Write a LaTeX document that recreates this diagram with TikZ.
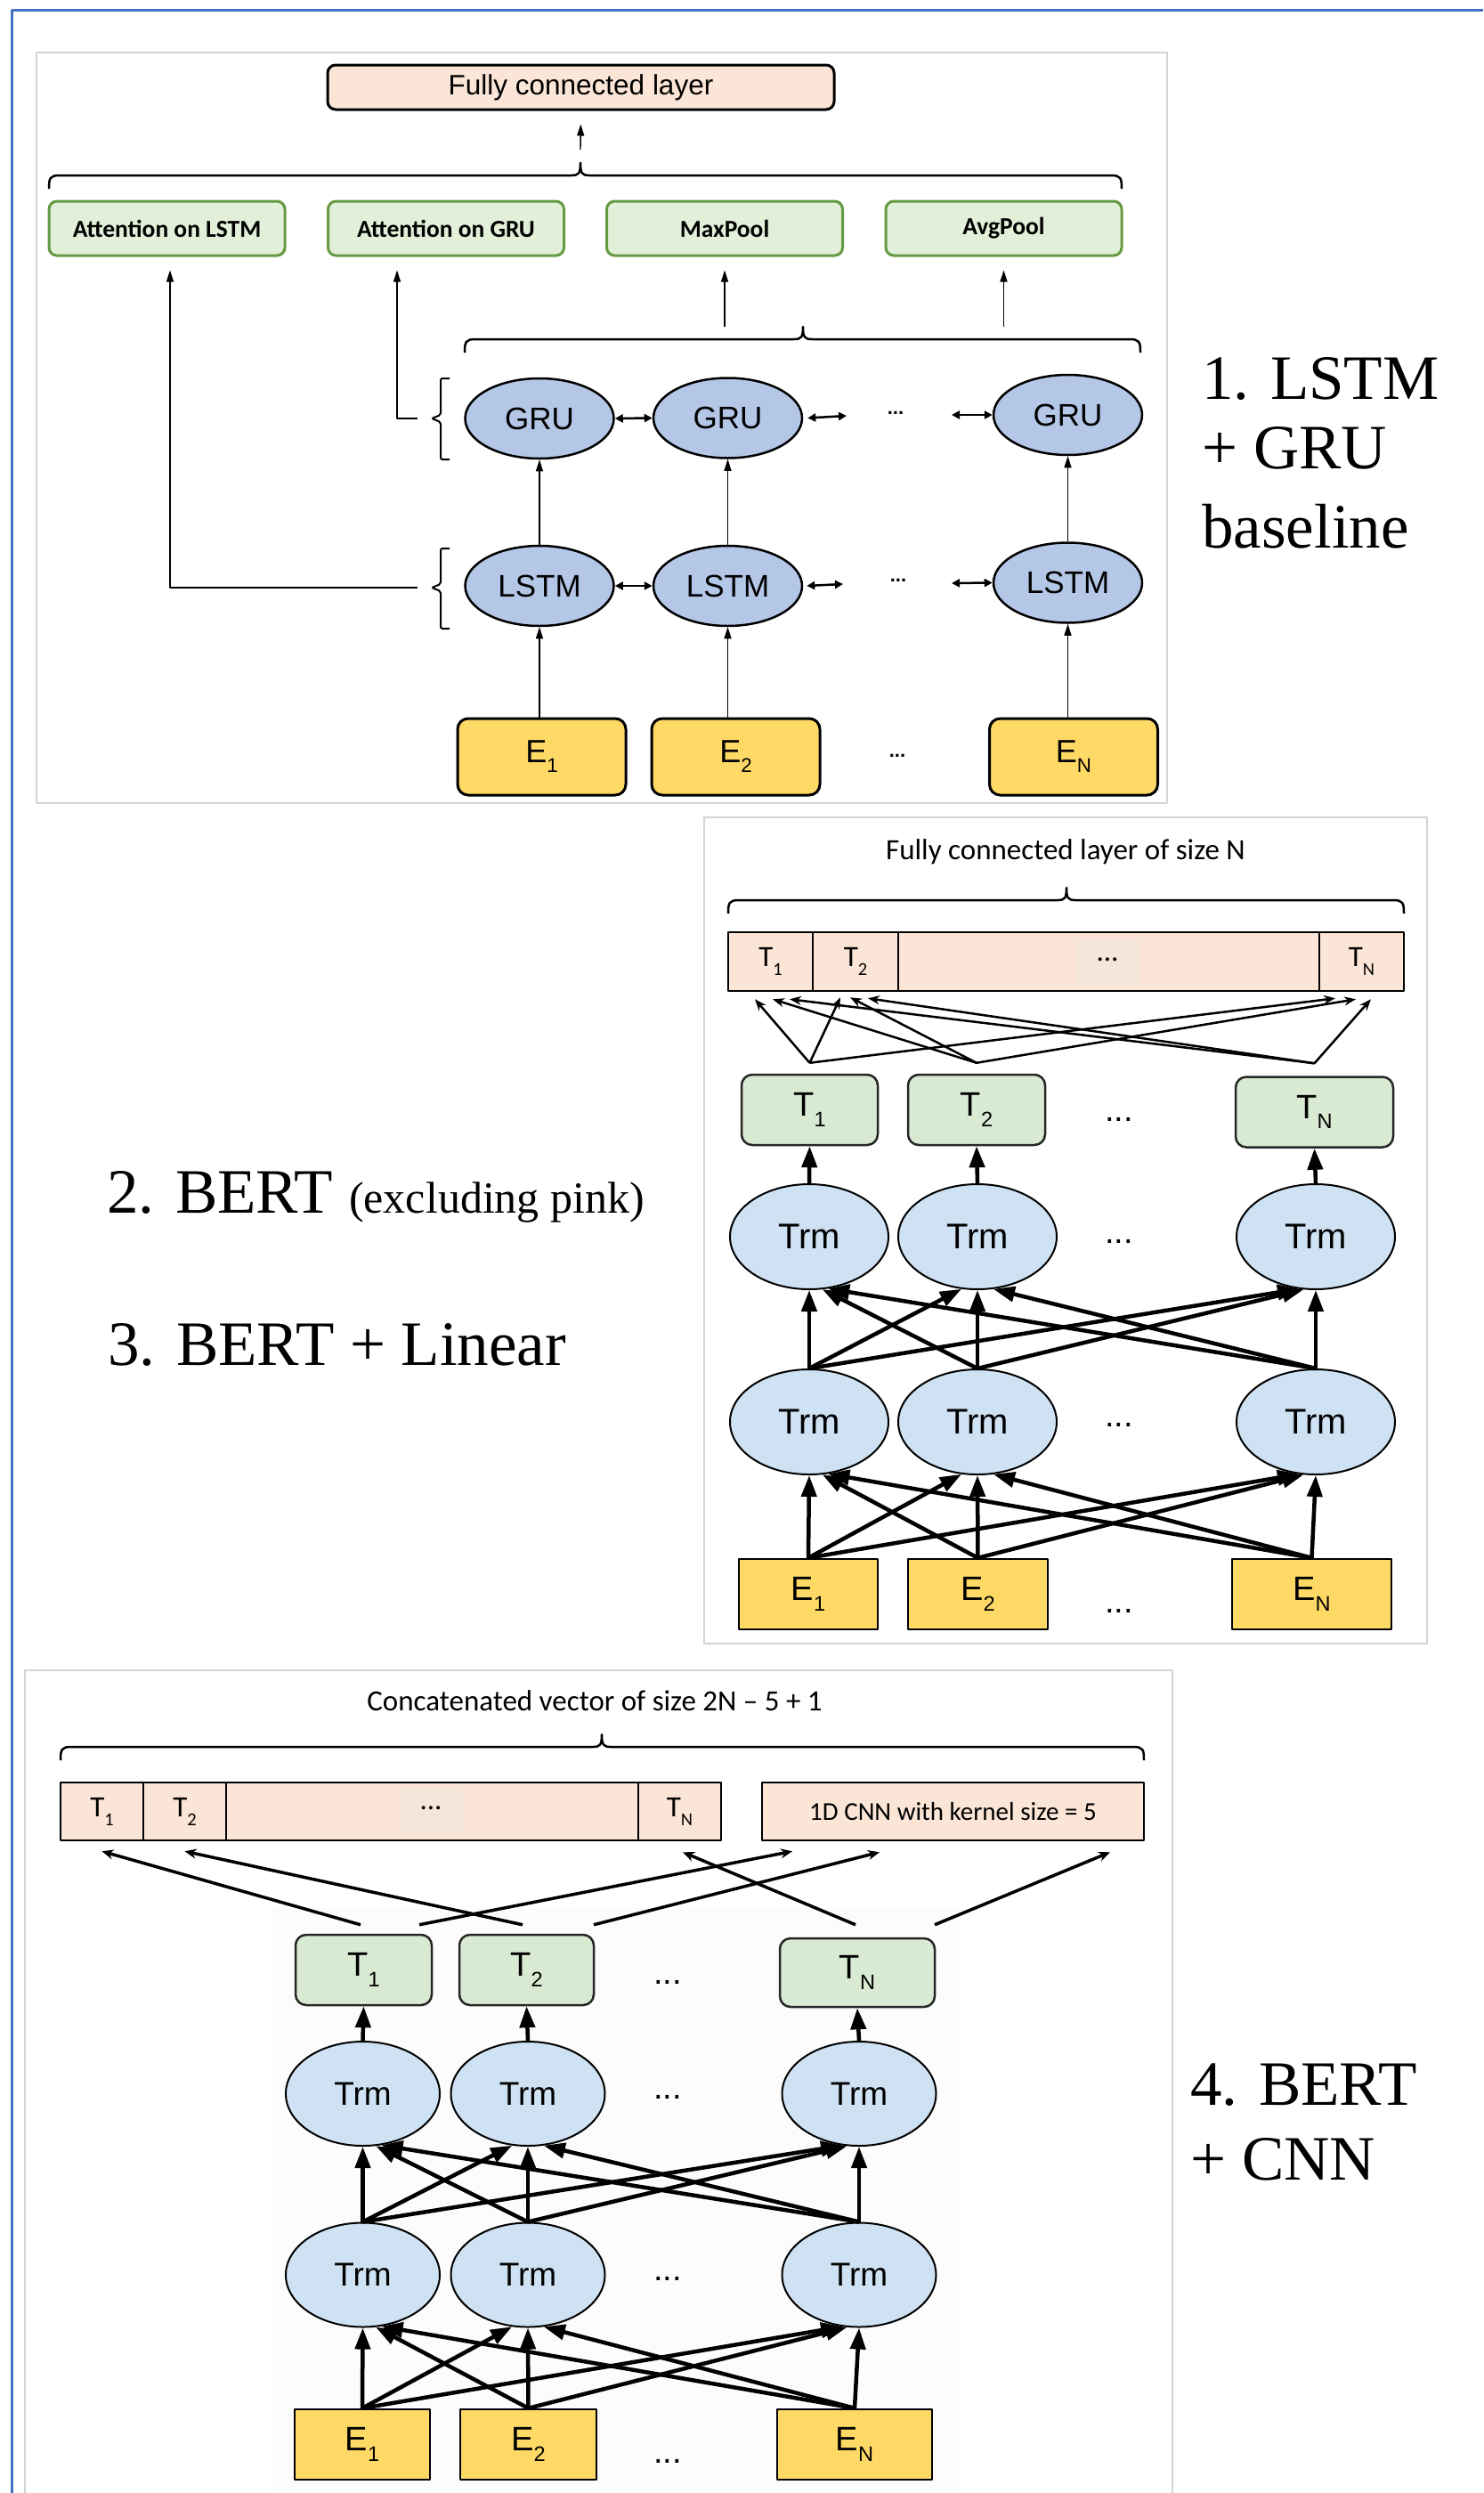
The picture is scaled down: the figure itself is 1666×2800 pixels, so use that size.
\documentclass[tikz,border=0pt]{standalone}
\usepackage{fontspec}
\usepackage{graphicx}
\setmainfont{Liberation Sans}
\newfontfamily\serifL{Liberation Serif}
\newfontfamily\calib{Carlito}
\usetikzlibrary{shapes.geometric,arrows.meta}

\definecolor{peach}{HTML}{FBE5D6}
\definecolor{dotbg}{HTML}{F4E6DA}
\definecolor{attfill}{HTML}{E2F0D9}
\definecolor{attdraw}{HTML}{669A42}
\definecolor{rnnfill}{HTML}{B4C7E7}
\definecolor{trmfill}{HTML}{CFE2F3}
\definecolor{tfill}{HTML}{D9EAD3}
\definecolor{efill}{HTML}{FFD966}
\definecolor{frameblue}{HTML}{4472C4}
\definecolor{panelgray}{HTML}{D4D4D4}
\definecolor{faintbg}{HTML}{FCFCFC}

\newcommand\lsub[1]{\raisebox{-0.3em}{\scalebox{0.62}{#1}}}
% x1, x2, xmid, y
\newcommand\mybrace[4]{%
  \draw[bracestyle] (#1,#4+15) .. controls (#1,#4+3) and (#1+1,#4) .. (#1+12,#4)
    -- (#3-10,#4) .. controls (#3-2,#4) and (#3,#4-2) .. (#3,#4-14)
    .. controls (#3,#4-2) and (#3+2,#4) .. (#3+10,#4)
    -- (#2-12,#4) .. controls (#2-1,#4) and (#2,#4+3) .. (#2,#4+15);}

\tikzset{
  panel/.style={draw=panelgray, line width=2pt},
  fcbox/.style={draw=black, line width=3pt, fill=peach, rounded corners=9pt, minimum width=569pt, minimum height=50pt, inner sep=0pt, font=\fontsize{31.5}{36}\selectfont},
  attbox/.style={draw=attdraw, line width=3pt, fill=attfill, rounded corners=9pt, minimum width=265pt, minimum height=61pt, inner sep=0pt, font=\calib\bfseries\fontsize{27.5}{32}\selectfont},
  rnn/.style={ellipse, draw=black, line width=2.5pt, fill=rnnfill, minimum width=167pt, minimum height=90pt, inner sep=0pt, font=\fontsize{35}{40}\selectfont},
  ebox/.style={draw=black, line width=3pt, fill=efill, rounded corners=12pt, minimum width=189pt, minimum height=86pt, inner sep=0pt, font=\fontsize{36}{40}\selectfont},
  thinarr/.style={line width=1.4pt, -{Triangle[length=13pt,width=8pt]}},
  dblarr/.style={line width=2.5pt, {Triangle[length=9pt,width=9pt]}-{Triangle[length=9pt,width=9pt]}},
  bracestyle/.style={line width=2.5pt},
  dotstxt/.style={inner sep=0pt, font=\bfseries\fontsize{22}{28}\selectfont},
  bigdots/.style={inner sep=0pt, font=\fontsize{38}{44}\selectfont},
  captxt/.style={inner sep=0pt, font=\calib\fontsize{33}{38}\selectfont},
  barcell/.style={draw=black, line width=2.5pt, fill=peach, minimum height=66pt, inner sep=0pt, font=\calib\fontsize{33}{38}\selectfont},
  tbox/.style={draw=black!85, line width=2.5pt, fill=tfill, rounded corners=12pt, minimum height=79pt, inner sep=0pt, font=\fontsize{38}{44}\selectfont},
  trm/.style={ellipse, draw=black, line width=2pt, fill=trmfill, minimum width=178pt, minimum height=118pt, inner sep=0pt, font=\fontsize{40}{46}\selectfont},
  trmb/.style={trm, minimum width=173pt, minimum height=117pt, font=\fontsize{37}{44}\selectfont},
  sbox/.style={draw=black, line width=2.5pt, fill=efill, minimum height=79pt, inner sep=0pt, font=\fontsize{38}{44}\selectfont},
  xarr/.style={line width=4.5pt, -{Triangle[length=24pt,width=17pt]}},
  toparr/.style={line width=2.5pt, -{Stealth[length=13pt,width=10pt]}},
  toparrb/.style={line width=3.5pt, -{Stealth[length=13pt,width=11pt]}},
  bigtext/.style={anchor=base west, inner sep=0pt, font=\serifL\fontsize{71}{84}\selectfont},
}

\begin{document}
\begin{tikzpicture}[x=1pt,y=-1pt,line join=round]
\useasboundingbox (0,0) rectangle (1666,2800);
\fill[white] (0,0) rectangle (1666,2800);
\draw[frameblue, line width=3pt] (13,2800) -- (13,11) -- (1666,11);

% ================= Panel 1 =================
\draw[panel] (41,59) rectangle (1311,902);
\node[fcbox] (fc) at (652.5,98) {Fully connected layer};
\mybrace{55}{1260}{652}{197}
\coordinate (b1top) at (652,168);
\draw[thinarr, shorten >=15pt] (b1top) -- (fc.south);

\node[attbox] (att1) at (187.5,256.5) {Attention on LSTM};
\node[attbox] (att2) at (501,256.5) {Attention on GRU};
\node[attbox] (maxp) at (814,256.5) {MaxPool};
\node[attbox] (avgp) at (1127.5,256.5) {AvgPool};

\mybrace{522}{1281}{902}{381}
\coordinate (mp0) at (814,367);
\coordinate (ap0) at (1127.5,367);
\draw[thinarr, shorten >=15pt] (mp0) -- (maxp.south);
\draw[thinarr, shorten >=15pt] (ap0) -- (avgp.south);

\node[rnn] (g1) at (606,470) {GRU};
\node[rnn] (g2) at (817.5,469.5) {GRU};
\node[rnn] (g3) at (1199.5,466) {GRU};
\node[rnn] (l1) at (606,658) {LSTM};
\node[rnn] (l2) at (817.5,658) {LSTM};
\node[rnn] (l3) at (1199.5,654.5) {LSTM};
\node[ebox] (e1) at (608.5,850) {E\lsub{1}};
\node[ebox] (e2) at (826.5,850) {E\lsub{2}};
\node[ebox] (en) at (1206,850) {E\lsub{N}};

\node[dotstxt] (gdots) at (1006,464) {...};
\node[dotstxt] (ldots) at (1009,652) {...};
\node[dotstxt] (edots) at (1008,849) {...};

\draw[dblarr] (g1.east) -- (g2.west);
\coordinate (gdr) at (951,467);
\coordinate (gdl) at (1069,466);
\draw[dblarr] ([xshift=5pt]g2.east) -- (gdr);
\draw[dblarr] (gdl) -- (g3.west);
\draw[dblarr] (l1.east) -- (l2.west);
\coordinate (ldr) at (947,656);
\coordinate (ldl) at (1069,655);
\draw[dblarr] ([xshift=4pt]l2.east) -- (ldr);
\draw[dblarr] (ldl) -- (l3.west);

\draw[thinarr] (l1.north) -- (g1.south);
\draw[thinarr] (l2.north) -- (g2.south);
\draw[thinarr] (l3.north) -- (g3.south);
\draw[thinarr] (e1.north -| l1) -- (l1.south);
\draw[thinarr] (e2.north -| l2) -- (l2.south);
\draw[thinarr] (en.north -| l3) -- (l3.south);

% brackets
\draw[line width=2pt, rounded corners=2pt] (505,425) -- (495,425) -- (495,466) -- (485,470) -- (495,474) -- (495,516) -- (505,516);
\draw[line width=2pt, rounded corners=2pt] (505,616) -- (495,616) -- (495,656) -- (485,660) -- (495,664) -- (495,706) -- (505,706);
\coordinate (gnub) at (469,470);
\coordinate (lnub) at (469,660);
\draw[thinarr, shorten >=15pt] (gnub) -| ([xshift=-55pt]att2.south);
\draw[thinarr, shorten >=15pt] (lnub) -| ([xshift=3.5pt]att1.south);

\node[bigtext] (lab1a) at (1350,448) {1. LSTM};
\node[bigtext] (lab1b) at (1350,526) {+ GRU};
\node[bigtext] (lab1c) at (1350,615) {baseline};

% ================= Panel 2 =================
\draw[panel] (791,918) rectangle (1603,1846);
\node[captxt] (cap2) at (1197,957) {Fully connected layer of size N};
\mybrace{818}{1577}{1198}{1011}
\node[barcell, minimum width=95pt] (p1) at (865.5,1080) {T\lsub{1}};
\node[barcell, minimum width=96pt] (p2) at (961,1080) {T\lsub{2}};
\node[barcell, minimum width=473pt] (pd) at (1245.5,1080) {};
\node[barcell, minimum width=95pt] (pn) at (1529.5,1080) {T\lsub{N}};
\fill[dotbg] (1208,1054) rectangle (1281,1105);
\node[inner sep=0pt, font=\calib\fontsize{33}{38}\selectfont] (pdots) at (1244,1078) {...};

\node[tbox, minimum width=153pt] (q1) at (909.5,1246.5) {T\lsub{1}};
\node[tbox, minimum width=154pt] (q2) at (1097,1246.5) {T\lsub{2}};
\node[tbox, minimum width=177pt] (qn) at (1476.5,1249) {T\lsub{N}};
\node[bigdots] (qdots) at (1257,1257) {...};

\node[trm] (u1) at (909,1389) {Trm};
\node[trm] (u2) at (1098,1389) {Trm};
\node[trm] (un) at (1478,1389) {Trm};
\node[bigdots] (udots) at (1257,1394) {...};
\node[trm] (d1) at (909,1597) {Trm};
\node[trm] (d2) at (1098,1597) {Trm};
\node[trm] (dn) at (1478,1597) {Trm};
\node[bigdots] (ddots) at (1257,1600) {...};
\node[sbox, minimum width=156pt] (be1) at (908,1790.5) {E\lsub{1}};
\node[sbox, minimum width=157pt] (be2) at (1098.5,1790.5) {E\lsub{2}};
\node[sbox, minimum width=179pt] (ben) at (1473.5,1790.5) {E\lsub{N}};
\node[bigdots] (bdots) at (1257,1809) {...};

\draw[toparr] ([yshift=12pt]q1.north) -- ([xshift=-17.5pt,yshift=-8pt]p1.south);
\draw[toparr] ([yshift=12pt]q1.north) -- ([xshift=-17pt,yshift=-6pt]p2.south);
\draw[toparr] ([yshift=12pt]q1.north) -- ([xshift=-29.5pt,yshift=-7pt]pn.south);
\draw[toparr] ([yshift=12pt]q2.north) -- ([xshift=2.5pt,yshift=-8pt]p1.south);
\draw[toparr] ([yshift=12pt]q2.north) -- ([xshift=-6pt,yshift=-6pt]p2.south);
\draw[toparr] ([yshift=12pt]q2.north) -- ([xshift=-6.5pt,yshift=-8pt]pn.south);
\draw[toparr] ([yshift=14pt]qn.north) -- ([xshift=21.5pt,yshift=-8pt]p1.south);
\draw[toparr] ([yshift=14pt]qn.north) -- ([xshift=14pt,yshift=-7pt]p2.south);
\draw[toparr] ([yshift=14pt]qn.north) -- ([xshift=10.5pt,yshift=-8pt]pn.south);

\draw[xarr] (u1.north) -- (q1.south);
\draw[xarr] (u2.north) -- (q2.south);
\draw[xarr] (un.north) -- (qn.south);

\draw[xarr] (d1.north) -- (u1.south);
\draw[xarr] (d1.north) -- (u2.-107);
\draw[xarr] (d1.north) -- (un.-108);
\draw[xarr] (d2.north) -- (u1.-76);
\draw[xarr] (d2.north) -- (u2.south);
\draw[xarr] (d2.north) -- (un.-103);
\draw[xarr] (dn.north) -- (u1.-70);
\draw[xarr] (dn.north) -- (u2.-73);
\draw[xarr] (dn.north) -- (un.south);

\draw[xarr] (be1.north) -- (d1.south);
\draw[xarr] (be1.north) -- (d2.-107);
\draw[xarr] (be1.north) -- (dn.-108);
\draw[xarr] (be2.north) -- (d1.-76);
\draw[xarr] (be2.north) -- (d2.south);
\draw[xarr] (be2.north) -- (dn.-103);
\draw[xarr] (ben.north) -- (d1.-70);
\draw[xarr] (ben.north) -- (d2.-73);
\draw[xarr] (ben.north) -- (dn.south);

\node[bigtext] (lab2) at (120,1362) {2. BERT {\fontsize{50}{60}\selectfont (excluding pink)}};
\node[bigtext] (lab3) at (121,1533) {3. BERT + Linear};

% ================= Panel 3 =================
\draw[panel] (28,2800) -- (28,1876) -- (1317,1876) -- (1317,2800);
\fill[faintbg] (305,2143) rectangle (1077,2800);
\node[captxt] (cap3) at (668,1910) {Concatenated vector of size 2N – 5 + 1};
\mybrace{68}{1285}{676}{1962}
\node[barcell, minimum width=93pt, minimum height=65pt] (r1) at (114.5,2034.5) {T\lsub{1}};
\node[barcell, minimum width=93pt, minimum height=65pt] (r2) at (207.5,2034.5) {T\lsub{2}};
\node[barcell, minimum width=463pt, minimum height=65pt] (rd) at (485.5,2034.5) {};
\node[barcell, minimum width=93pt, minimum height=65pt] (rn) at (763.5,2034.5) {T\lsub{N}};
\fill[dotbg] (449,2008) rectangle (519,2059);
\node[inner sep=0pt, font=\calib\fontsize{33}{38}\selectfont] (rdots) at (484,2031) {...};
\node[barcell, minimum width=429pt, minimum height=65pt, font=\calib\fontsize{29}{34}\selectfont] (cnn) at (1070.5,2034.5) {1D CNN with kernel size = 5};

\node[tbox, minimum width=153pt] (s1) at (408.5,2212.5) {T\lsub{1}};
\node[tbox, minimum width=151pt] (s2) at (591.5,2212.5) {T\lsub{2}};
\node[tbox, minimum width=174pt, minimum height=77pt] (sn) at (963,2215.5) {T\lsub{N}};
\node[bigdots] (sdots) at (750,2226) {...};

\node[trmb] (v1) at (407.5,2351.5) {Trm};
\node[trmb] (v2) at (593,2351.5) {Trm};
\node[trmb] (vn) at (965,2351.5) {Trm};
\node[bigdots] (vdots) at (750,2355) {...};
\node[trmb] (w1) at (407.5,2555) {Trm};
\node[trmb] (w2) at (593,2555) {Trm};
\node[trmb] (wn) at (965,2555) {Trm};
\node[bigdots] (wdots) at (750,2559) {...};
\node[sbox, minimum width=152pt] (f1) at (407,2745.5) {E\lsub{1}};
\node[sbox, minimum width=153pt] (f2) at (593.5,2745.5) {E\lsub{2}};
\node[sbox, minimum width=174pt] (fn) at (960,2745.5) {E\lsub{N}};
\node[bigdots] (fdots) at (750,2764) {...};

\draw[toparrb] ([xshift=-3.5pt,yshift=10pt]s1.north) -- ([yshift=-11pt]r1.south);
\draw[toparrb] ([xshift=62.5pt,yshift=10pt]s1.north) -- ([xshift=-180.5pt,yshift=-11pt]cnn.south);
\draw[toparrb] ([xshift=-4.5pt,yshift=10pt]s2.north) -- ([yshift=-11pt]r2.south);
\draw[toparrb] ([xshift=75.5pt,yshift=10pt]s2.north) -- ([xshift=-82.5pt,yshift=-12pt]cnn.south);
\draw[toparrb] ([xshift=-2pt,yshift=14pt]sn.north) -- ([xshift=3.5pt,yshift=-12pt]rn.south);
\draw[toparrb] ([xshift=87pt,yshift=14pt]sn.north) -- ([xshift=176.5pt,yshift=-12pt]cnn.south);

\draw[xarr] (v1.north) -- (s1.south);
\draw[xarr] (v2.north) -- (s2.south);
\draw[xarr] (vn.north) -- (sn.south);

\draw[xarr] (w1.north) -- (v1.south);
\draw[xarr] (w1.north) -- (v2.-107);
\draw[xarr] (w1.north) -- (vn.-108);
\draw[xarr] (w2.north) -- (v1.-76);
\draw[xarr] (w2.north) -- (v2.south);
\draw[xarr] (w2.north) -- (vn.-103);
\draw[xarr] (wn.north) -- (v1.-70);
\draw[xarr] (wn.north) -- (v2.-73);
\draw[xarr] (wn.north) -- (vn.south);

\draw[xarr] (f1.north) -- (w1.south);
\draw[xarr] (f1.north) -- (w2.-107);
\draw[xarr] (f1.north) -- (wn.-108);
\draw[xarr] (f2.north) -- (w1.-76);
\draw[xarr] (f2.north) -- (w2.south);
\draw[xarr] (f2.north) -- (wn.-103);
\draw[xarr] (fn.north) -- (w1.-70);
\draw[xarr] (fn.north) -- (w2.-73);
\draw[xarr] (fn.north) -- (wn.south);

\node[bigtext] (lab4a) at (1337,2364) {4. BERT};
\node[bigtext] (lab4b) at (1337,2448) {+ CNN};
\end{tikzpicture}
\end{document}
